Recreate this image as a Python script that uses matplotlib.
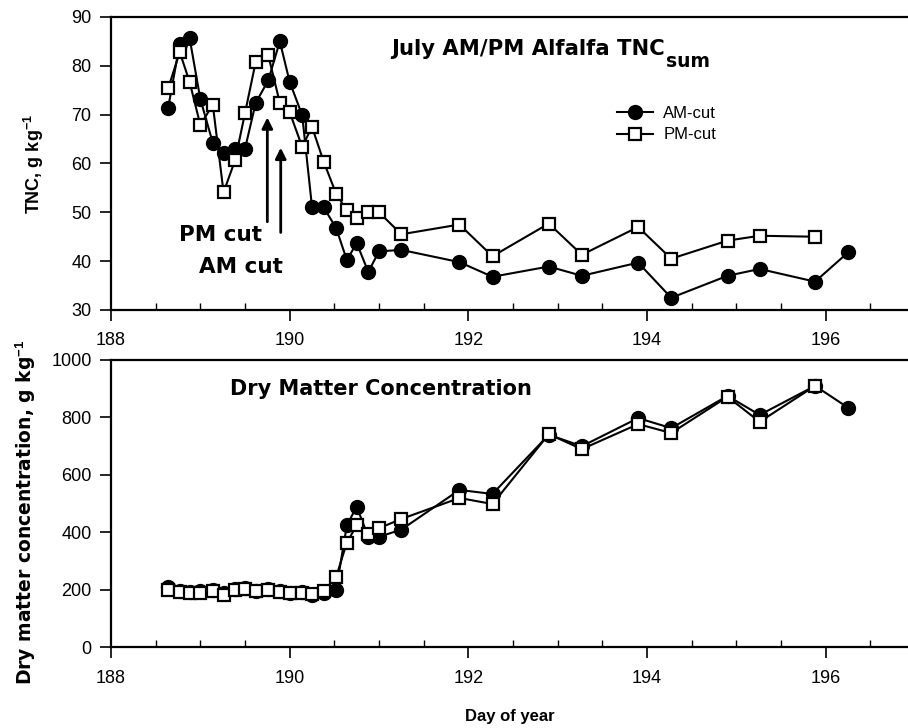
import matplotlib
matplotlib.use("Agg")
import matplotlib.pyplot as plt
from matplotlib.ticker import MultipleLocator

plt.rcParams['font.family'] = ['Liberation Sans', 'DejaVu Sans']
plt.rcParams['mathtext.fontset'] = 'custom'
plt.rcParams['mathtext.rm'] = 'Liberation Sans'
plt.rcParams['mathtext.bf'] = 'Liberation Sans:bold'

WIDE = ['DejaVu Sans']

# ---- data ----
day = [188.64, 188.77, 188.88, 189.0, 189.14, 189.26, 189.39, 189.5, 189.62,
       189.76, 189.89, 190.0, 190.14, 190.25, 190.38, 190.52, 190.64, 190.75,
       190.88, 191.0, 191.25, 191.9, 192.27, 192.9, 193.27, 193.9, 194.27,
       194.9, 195.26, 195.88, 196.25]

tnc_am = [71.4, 84.5, 85.7, 73.2, 64.2, 62.2, 63.0, 63.0, 72.4, 77.0, 85.0,
          76.7, 69.9, 51.1, 51.0, 46.8, 40.2, 43.7, 37.8, 42.0, 42.3, 39.8,
          36.8, 38.9, 37.0, 39.7, 32.5, 37.0, 38.4, 35.8, 41.8]
tnc_pm = [75.4, 82.8, 76.7, 67.9, 72.0, 54.1, 60.7, 70.3, 80.8, 82.2, 72.4,
          70.5, 63.4, 67.5, 60.4, 53.8, 50.4, 48.8, 50.0, 50.0, 45.5, 47.5,
          41.0, 47.7, 41.3, 47.0, 40.5, 44.2, 45.2, 45.0]

dm_am = [210, 198, 192, 195, 200, 188, 205, 208, 198, 205, 195, 190, 193,
         182, 190, 200, 425, 490, 385, 385, 410, 548, 534, 740, 700, 798,
         763, 875, 809, 910, 834]
dm_pm = [200, 192, 188, 190, 196, 182, 200, 204, 195, 200, 192, 188, 190,
         185, 195, 245, 365, 425, 395, 415, 447, 520, 499, 742, 690, 777,
         746, 872, 785, 910]

xticks = [188, 190, 192, 194, 196]
tnc_ticks = [30, 40, 50, 60, 70, 80, 90]
dm_ticks = [0, 200, 400, 600, 800, 1000]

fig = plt.figure(figsize=(9.08, 7.28), dpi=100)
ax1 = fig.add_axes([0.1222, 0.5742, 0.8778, 0.4025])
ax2 = fig.add_axes([0.1222, 0.1106, 0.8778, 0.3949])

def style(ax):
    ax.set_xlim(188, 196.92)
    ax.spines['right'].set_visible(False)
    for s in ['left', 'bottom', 'top']:
        ax.spines[s].set_linewidth(1.6)
    ax.set_xticks(xticks)
    ax.xaxis.set_minor_locator(MultipleLocator(0.5))
    ax.tick_params(axis='x', which='major', direction='out', length=8,
                   width=1.2, labelsize=13, pad=8)
    ax.tick_params(axis='x', which='minor', direction='in', length=5,
                   width=1.0)
    ax.tick_params(axis='y', which='major', direction='out', length=8,
                   width=1.2, labelsize=13, pad=6)
    ax.tick_params(top=False)

mk_am = dict(color='black', marker='o', markersize=10, linewidth=1.5,
             markerfacecolor='black', markeredgecolor='black')
mk_pm = dict(color='black', marker='s', markersize=9, linewidth=1.5,
             markerfacecolor='white', markeredgecolor='black',
             markeredgewidth=1.6)

# ---- top panel ----
style(ax1)
ax1.set_ylim(30, 90)
ax1.set_yticks(tnc_ticks)
ax1.plot(day, tnc_am, label='AM-cut', zorder=3, **mk_am)
ax1.plot(day[:len(tnc_pm)], tnc_pm, label='PM-cut', zorder=4, **mk_pm)
ax1.set_ylabel(r'TNC, g kg$^{\mathbf{-1}}$', fontsize=13, fontweight='bold')
ax1.yaxis.set_label_coords(-0.081, 0.5)
t1 = ax1.text(0.352, 0.870, 'July AM/PM Alfalfa TNC', transform=ax1.transAxes,
              fontsize=15.2, fontweight='bold', family=WIDE,
              va='baseline', ha='left')
ax1.annotate('sum', xy=(1.0, 0.0), xycoords=t1, xytext=(0.5, -5.5),
             textcoords='offset points', fontsize=13.5,
             fontweight='bold', family=WIDE, va='baseline', ha='left')
ax1.legend(loc='upper left', bbox_to_anchor=(0.626, 0.72), frameon=False,
           fontsize=12, handlelength=2.2, handletextpad=0.6,
           borderaxespad=0, labelspacing=0.4)
ax1.annotate('', xy=(189.75, 70.0), xytext=(189.75, 47.5),
             arrowprops=dict(arrowstyle='-|>', color='black', lw=2,
                             mutation_scale=16))
ax1.annotate('', xy=(189.9, 63.8), xytext=(189.9, 45.3),
             arrowprops=dict(arrowstyle='-|>', color='black', lw=2,
                             mutation_scale=16))
ax1.text(189.23, 45.3, 'PM cut', fontsize=15.5, fontweight='bold',
         family=WIDE, ha='center', va='center')
ax1.text(189.46, 38.8, 'AM cut', fontsize=15.5, fontweight='bold',
         family=WIDE, ha='center', va='center')

# ---- bottom panel ----
style(ax2)
ax2.set_ylim(0, 1000)
ax2.set_yticks(dm_ticks)
ax2.plot(day, dm_am, zorder=3, **mk_am)
ax2.plot(day[:len(dm_pm)], dm_pm, zorder=4, **mk_pm)
ax2.set_ylabel(r'Dry matter concentration, g kg$^{\mathbf{-1}}$',
               fontsize=13.5, fontweight='bold', family=WIDE)
ax2.yaxis.set_label_coords(-0.092, 0.47)
ax2.set_xlabel('Day of year', fontsize=12, fontweight='bold', labelpad=16)
ax2.text(0.149, 0.9, 'Dry Matter Concentration', transform=ax2.transAxes,
         fontsize=15, fontweight='bold', family=WIDE, va='center',
         ha='left')

fig.savefig('out.png', dpi=100)
